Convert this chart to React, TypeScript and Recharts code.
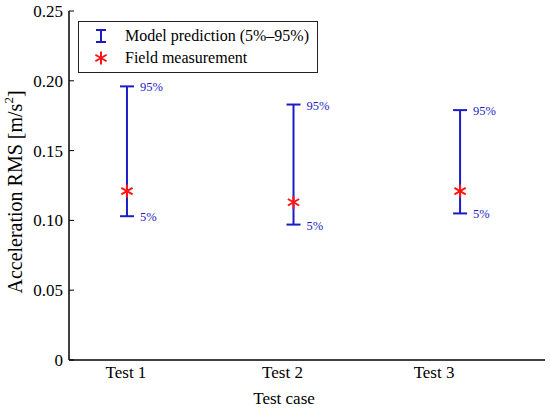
import React from 'react';
import { ScatterChart, Scatter, XAxis, YAxis, ErrorBar, Legend } from 'recharts';

const cases = ['Test 1', 'Test 2', 'Test 3'];
const p95 = [0.196, 0.183, 0.179];
const p5 = [0.103, 0.097, 0.105];
const measured = [0.121, 0.113, 0.121];
const yTicks = [0, 0.05, 0.1, 0.15, 0.2, 0.25];
const boundLabels = { low: '5%', high: '95%' };
const legendOrder = ['Model prediction (5%–95%)', 'Field measurement'];

const BLUE = '#1c1cc4';
const RED = '#ff1414';
const FONT = 'Liberation Serif';

const rows = cases.map((name, i) => ({
  x: i + 1,
  name,
  p5: p5[i],
  p95: p95[i],
  measured: measured[i],
  range: [measured[i] - p5[i], p95[i] - measured[i]],
}));

const Asterisk = ({ cx, cy, r = 6.5 }: any) => {
  const dx = r * Math.cos(Math.PI / 6);
  const dy = r * Math.sin(Math.PI / 6);
  return (
    <g stroke={RED} strokeWidth={2}>
      <line x1={cx} y1={cy - r} x2={cx} y2={cy + r} />
      <line x1={cx - dx} y1={cy - dy} x2={cx + dx} y2={cy + dy} />
      <line x1={cx - dx} y1={cy + dy} x2={cx + dx} y2={cy - dy} />
    </g>
  );
};

const boundText = (text: string) => (props: any) => (
  <text
    x={props.cx + 13}
    y={props.cy + 1}
    dominantBaseline="central"
    fontSize={12.5}
    fontFamily={FONT}
    fill={BLUE}
  >
    {text}
  </text>
);

// labels in the figure sit a little left of the bars
const tickShift = [-1, -11, -26];

const CaseTick = ({ x, y, payload, index }: any) => (
  <text
    x={x + (tickShift[index] ?? 0)}
    y={y}
    dy="0.71em"
    textAnchor="middle"
    fontSize={17}
    fontFamily={FONT}
    fill="#000"
  >
    {cases[payload.value - 1]}
  </text>
);

const ValueTick = ({ x, y, payload }: any) => (
  <text
    x={x}
    y={y}
    dy="0.355em"
    textAnchor="end"
    fontSize={17}
    fontFamily={FONT}
    fill="#000"
  >
    {payload.value === 0 ? '0' : Number(payload.value).toFixed(2)}
  </text>
);

const XTitle = () => (
  <text
    x={284}
    y={398}
    textAnchor="middle"
    dominantBaseline="central"
    fontSize={17}
    fontFamily={FONT}
    fill="#000"
  >
    Test case
  </text>
);

const YTitle = () => (
  <text
    x={15}
    y={192}
    transform="rotate(-90 15 192)"
    textAnchor="middle"
    dominantBaseline="central"
    fontSize={20}
    fontFamily={FONT}
    fill="#000"
  >
    Acceleration RMS [m/s
    <tspan dy={-7} fontSize={13}>2</tspan>
    <tspan dy={7}>]</tspan>
  </text>
);

const NoLabel = () => <g />;

const LegendBox = ({ payload }: any) => {
  const items = legendOrder
    .map((name) => (payload || []).find((p: any) => p.value === name))
    .filter(Boolean);
  return (
    <div
      style={{
        border: '1.5px solid #222',
        background: '#fff',
        width: 240,
        height: 52,
        boxSizing: 'border-box',
        paddingTop: 3,
        fontFamily: FONT,
        fontSize: 16,
        color: '#000',
        lineHeight: '22px',
      }}
    >
      {items.map((entry: any) => (
        <div
          key={entry.value}
          style={{ display: 'flex', alignItems: 'center', height: 22 }}
        >
          <svg width={46} height={22} style={{ flex: 'none' }}>
            {entry.value === 'Field measurement' ? (
              <Asterisk cx={22} cy={11} />
            ) : (
              <g stroke={BLUE} strokeWidth={2}>
                <line x1={22} y1={5} x2={22} y2={17} />
                <line x1={17} y1={5} x2={27} y2={5} />
                <line x1={17} y1={17} x2={27} y2={17} />
              </g>
            )}
          </svg>
          <span>{entry.value}</span>
        </div>
      ))}
    </div>
  );
};

export default function App() {
  return (
    <div style={{ position: 'absolute', left: 0, top: 0 }}>
      <ScatterChart
        width={550}
        height={410}
        margin={{ top: 11, right: 5, bottom: 0, left: 0 }}
        style={{ background: '#fff' }}
      >
        <XAxis
          type="number"
          dataKey="x"
          domain={[0.652, 3.51]}
          ticks={[1, 2, 3]}
          allowDataOverflow
          height={50}
          tickLine={false}
          tickSize={0}
          tickMargin={6}
          axisLine={{ stroke: '#000', strokeWidth: 1.5 }}
          tick={<CaseTick />}
          label={<XTitle />}
        />
        <XAxis
          xAxisId="top"
          type="number"
          orientation="top"
          mirror
          height={0}
          domain={[0.652, 3.51]}
          tick={false}
          tickLine={false}
          axisLine={{ stroke: '#000', strokeWidth: 1.5 }}
        />
        <YAxis
          type="number"
          domain={[0, 0.25]}
          ticks={yTicks}
          allowDataOverflow
          width={69}
          tickSize={-5}
          tickMargin={11}
          tickLine={{ stroke: '#000', strokeWidth: 1 }}
          axisLine={{ stroke: '#000', strokeWidth: 1.5 }}
          tick={<ValueTick />}
          label={<YTitle />}
        />
        <YAxis
          yAxisId="right"
          type="number"
          orientation="right"
          width={0}
          domain={[0, 0.25]}
          ticks={yTicks}
          tick={<NoLabel />}
          tickSize={-5}
          tickLine={{ stroke: '#000', strokeWidth: 1 }}
          axisLine={{ stroke: '#000', strokeWidth: 1.5 }}
        />
        <Legend
          layout="vertical"
          align="center"
          verticalAlign="middle"
          content={<LegendBox />}
          wrapperStyle={{ top: 21, left: 78, width: 240 }}
        />
        <Scatter
          name="Model prediction (5%–95%)"
          data={rows}
          dataKey="measured"
          shape={() => <g />}
          isAnimationActive={false}
        >
          <ErrorBar
            dataKey="range"
            direction="y"
            width={7}
            stroke={BLUE}
            strokeWidth={2}
            isAnimationActive={false}
          />
        </Scatter>
        <Scatter
          name="Field measurement"
          data={rows}
          dataKey="measured"
          shape={<Asterisk />}
          isAnimationActive={false}
        />
        <Scatter
          name="p95"
          data={rows}
          dataKey="p95"
          legendType="none"
          shape={boundText(boundLabels.high)}
          isAnimationActive={false}
        />
        <Scatter
          name="p5"
          data={rows}
          dataKey="p5"
          legendType="none"
          shape={boundText(boundLabels.low)}
          isAnimationActive={false}
        />
      </ScatterChart>
    </div>
  );
}
